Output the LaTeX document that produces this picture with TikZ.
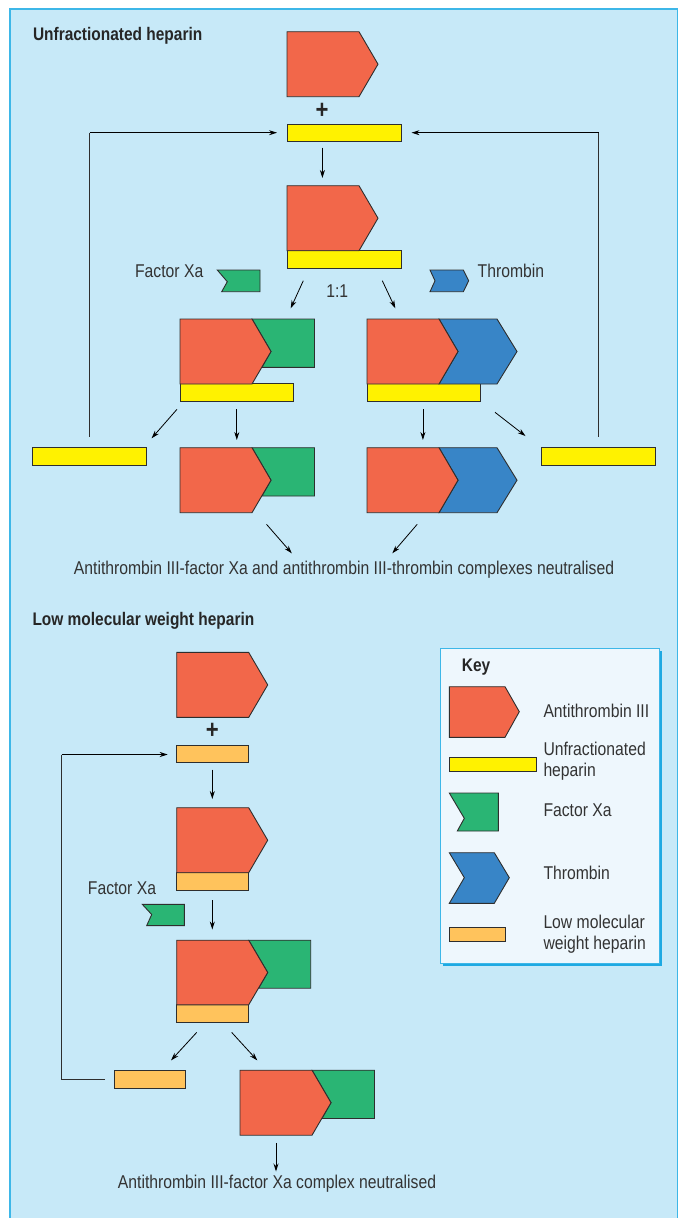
\documentclass[tikz,border=0pt]{standalone}
\usepackage{fontspec}
\setmainfont{Liberation Sans}[FakeStretch=0.85]
\usetikzlibrary{arrows.meta}
\definecolor{bgblue}{HTML}{C7E9F8}
\definecolor{frameblue}{HTML}{3DB7E8}
\definecolor{keyfill}{HTML}{EEF7FD}
\definecolor{keyshadow}{HTML}{1EA9E2}
\definecolor{atred}{HTML}{F2674A}
\definecolor{xagreen}{HTML}{2AB574}
\definecolor{thblue}{HTML}{3885C7}
\definecolor{hepyellow}{HTML}{FFF200}
\definecolor{lmworange}{HTML}{FFC35C}
\definecolor{lineg}{HTML}{2E2E2E}
\definecolor{txtg}{HTML}{333333}
\tikzset{
  shp/.style={draw=lineg, line width=0.9pt, line join=miter},
  arr/.style={-{Stealth[length=8pt,width=5pt]}, line width=0.8pt, draw=black},
  fbl/.style={line width=0.9pt, draw=lineg},
  txt/.style={inner sep=0pt, text=txtg, font=\fontsize{18.5}{21.5}\selectfont},
  ttl/.style={inner sep=0pt, text=black!85, font=\fontsize{18.2}{21}\selectfont\bfseries},
  plussign/.style={inner sep=0pt, text=black!85, font=\fontsize{26}{26}\selectfont\bfseries},
  atpic/.pic={\filldraw[shp,fill=atred] (0,0) -- (72,0) -- (91,32.5) -- (72,65) -- (0,65) -- cycle;},
  atxapic/.pic={
    \filldraw[shp,fill=xagreen] (72,0) -- (134.5,0) -- (134.5,48.3) -- (81.9,48.3) -- (91,32.5) -- cycle;
    \filldraw[shp,fill=atred] (0,0) -- (72,0) -- (91,32.5) -- (72,65) -- (0,65) -- cycle;},
  atthpic/.pic={
    \filldraw[shp,fill=thblue] (72,0) -- (130,0) -- (150,32.5) -- (130,65) -- (72,65) -- (91,32.5) -- cycle;
    \filldraw[shp,fill=atred] (0,0) -- (72,0) -- (91,32.5) -- (72,65) -- (0,65) -- cycle;},
}
\begin{document}
\begin{tikzpicture}[x=1pt,y=-1pt]
\useasboundingbox (0,0) rectangle (682,1218);
\fill[bgblue] (10,9) rectangle (677.5,1218);
\draw[frameblue, line width=1.3pt] (10,1218) -- (10,9) -- (677.5,9) -- (677.5,1218);

% ---------------- Unfractionated heparin ----------------
\node[ttl, anchor=west] (title1) at (32.8,36) {Unfractionated heparin};
\pic at (287,31.7) {atpic};
\node[plussign] (plus1) at (322,110.7) {+};
\filldraw[shp,fill=hepyellow] (287,124) rectangle (401,141.7);
\coordinate (a1s) at (322.4,147.7); \coordinate (a1e) at (322.4,178);
\draw[arr] (a1s) -- (a1e);
\filldraw[shp,fill=hepyellow] (287,250.7) rectangle (401,268.7);
\pic at (287,185.7) {atpic};

\node[txt, anchor=east] (fxa1) at (203.5,271) {Factor Xa};
\filldraw[shp,fill=xagreen] (217.3,270) -- (260,270) -- (260,291.7) -- (221.7,291.7) -- (227.3,281.7) -- cycle;
\filldraw[shp,fill=thblue] (430,270) -- (463.3,270) -- (468.7,280.8) -- (463.3,291.7) -- (430,291.7) -- (435,280.8) -- cycle;
\node[txt, anchor=west] (thr1) at (477.5,271) {Thrombin};
\node[txt] (ratio) at (337.3,291) {1:1};
\coordinate (a2s) at (303.3,280.7); \coordinate (a2e) at (290.7,308.3);
\coordinate (a3s) at (382.3,280.7); \coordinate (a3e) at (395.3,308.3);
\draw[arr] (a2s) -- (a2e);
\draw[arr] (a3s) -- (a3e);

% complexes with heparin
\filldraw[shp,fill=hepyellow] (180,383.3) rectangle (293.6,401.3);
\pic at (180,319) {atxapic};
\filldraw[shp,fill=hepyellow] (367,383.3) rectangle (480.6,401.3);
\pic at (367,319) {atthpic};

% released heparin and complexes
\filldraw[shp,fill=hepyellow] (32.8,447.7) rectangle (146.4,465.3);
\pic at (180,447.7) {atxapic};
\pic at (367,447.7) {atthpic};
\filldraw[shp,fill=hepyellow] (541.7,447.7) rectangle (655.3,465.3);

\coordinate (a4s) at (177,409.3); \coordinate (a4e) at (151.6,438.3);
\coordinate (a5s) at (236.8,409.3); \coordinate (a5e) at (236.8,440);
\coordinate (a6s) at (422.9,409.3); \coordinate (a6e) at (422.9,440);
\coordinate (a7s) at (495,412.3); \coordinate (a7e) at (525.5,436);
\draw[arr] (a4s) -- (a4e);
\draw[arr] (a5s) -- (a5e);
\draw[arr] (a6s) -- (a6e);
\draw[arr] (a7s) -- (a7e);

% feedback loops
\coordinate (fl0) at (89.6,436.7); \coordinate (fl1) at (89.6,132.7); \coordinate (fl2) at (277,132.7);
\coordinate (fr0) at (598.5,436.7); \coordinate (fr1) at (598.5,132.7); \coordinate (fr2) at (411.5,132.7);
\draw[fbl] (fl0) -- (fl1);
\draw[arr] (fl1) -- (fl2);
\draw[fbl] (fr0) -- (fr1);
\draw[arr] (fr1) -- (fr2);

\coordinate (a8s) at (266.5,524.3); \coordinate (a8e) at (291.8,553.3);
\coordinate (a9s) at (417.2,524.3); \coordinate (a9e) at (392.3,553.3);
\draw[arr] (a8s) -- (a8e);
\draw[arr] (a9s) -- (a9e);
\node[txt] (res1) at (344,570) {Antithrombin III-factor Xa and antithrombin III-thrombin complexes neutralised};

% ---------------- Low molecular weight heparin ----------------
\node[ttl, anchor=west] (title2) at (32.3,621) {Low molecular weight heparin};
\pic at (176.7,652.4) {atpic};
\node[plussign] (plus2) at (212.3,731.3) {+};
\filldraw[shp,fill=lmworange] (176.7,745) rectangle (248.3,762.4);
\coordinate (b1s) at (212.3,769.5); \coordinate (b1e) at (212.3,799);
\draw[arr] (b1s) -- (b1e);
\filldraw[shp,fill=lmworange] (176.7,872) rectangle (248.3,890.1);
\pic at (176.7,807.7) {atpic};
\node[txt, anchor=west] (fxa2) at (87.7,888) {Factor Xa};
\filldraw[shp,fill=xagreen] (142.3,904.3) -- (184.3,904.3) -- (184.3,925.6) -- (146.7,925.6) -- (151.7,914.5) -- cycle;
\coordinate (b2s) at (212.3,900.3); \coordinate (b2e) at (212.3,929.5);
\draw[arr] (b2s) -- (b2e);
\filldraw[shp,fill=lmworange] (176.7,1004.8) rectangle (248.3,1022.5);
\begin{scope}[shift={(176.7,940.2)}]
  \filldraw[shp,fill=xagreen] (72,0) -- (134,0) -- (134,48) -- (81.9,48) -- (91,32.3) -- cycle;
  \filldraw[shp,fill=atred] (0,0) -- (72,0) -- (91,32.3) -- (72,64.6) -- (0,64.6) -- cycle;
\end{scope}
\coordinate (b3s) at (196.7,1032.4); \coordinate (b3e) at (171,1060.4);
\coordinate (b4s) at (231.7,1032.4); \coordinate (b4e) at (257.3,1060.4);
\draw[arr] (b3s) -- (b3e);
\draw[arr] (b4s) -- (b4e);
\filldraw[shp,fill=lmworange] (114,1070.2) rectangle (185.7,1088);
\pic at (240,1070.2) {atxapic};
\coordinate (g0) at (105,1079.3); \coordinate (g1) at (61.7,1079.3);
\coordinate (g2) at (61.7,754.5); \coordinate (g3) at (167.7,754.5);
\draw[fbl] (g0) -- (g1) -- (g2);
\draw[arr] (g2) -- (g3);
\coordinate (b5s) at (276,1142.8); \coordinate (b5e) at (276,1171.5);
\draw[arr] (b5s) -- (b5e);
\node[txt] (res2) at (277,1184) {Antithrombin III-factor Xa complex neutralised};

% ---------------- Key ----------------
\fill[keyshadow] (443,651.3) rectangle (662.3,966.3);
\filldraw[fill=keyfill, draw=frameblue, line width=1pt] (440,648.3) rectangle (659.3,963.3);
\node[ttl, anchor=west] (keyt) at (461.7,666.7) {Key};
\filldraw[shp,fill=atred] (449.3,686.7) -- (505,686.7) -- (519.3,711.7) -- (505,737.3) -- (449.3,737.3) -- cycle;
\node[txt, anchor=west] (k1) at (543.3,711) {Antithrombin III};
\filldraw[shp,fill=hepyellow] (449.3,757.7) rectangle (536.7,771.7);
\node[txt, anchor=west, align=left] (k2) at (543.3,761) {Unfractionated\\heparin};
\filldraw[shp,fill=xagreen] (449.3,793) -- (498.3,793) -- (498.3,831) -- (457.3,831) -- (464.3,818.3) -- cycle;
\node[txt, anchor=west] (k3) at (543.3,810) {Factor Xa};
\filldraw[shp,fill=thblue] (449.3,852.7) -- (494.3,852.7) -- (509.3,877.7) -- (494.3,903.3) -- (449.3,903.3) -- (464.3,877.7) -- cycle;
\node[txt, anchor=west] (k4) at (543.3,873.3) {Thrombin};
\filldraw[shp,fill=lmworange] (449.3,927.7) rectangle (505,941.7);
\node[txt, anchor=west, align=left] (k5) at (543.3,934) {Low molecular\\weight heparin};
\end{tikzpicture}
\end{document}
